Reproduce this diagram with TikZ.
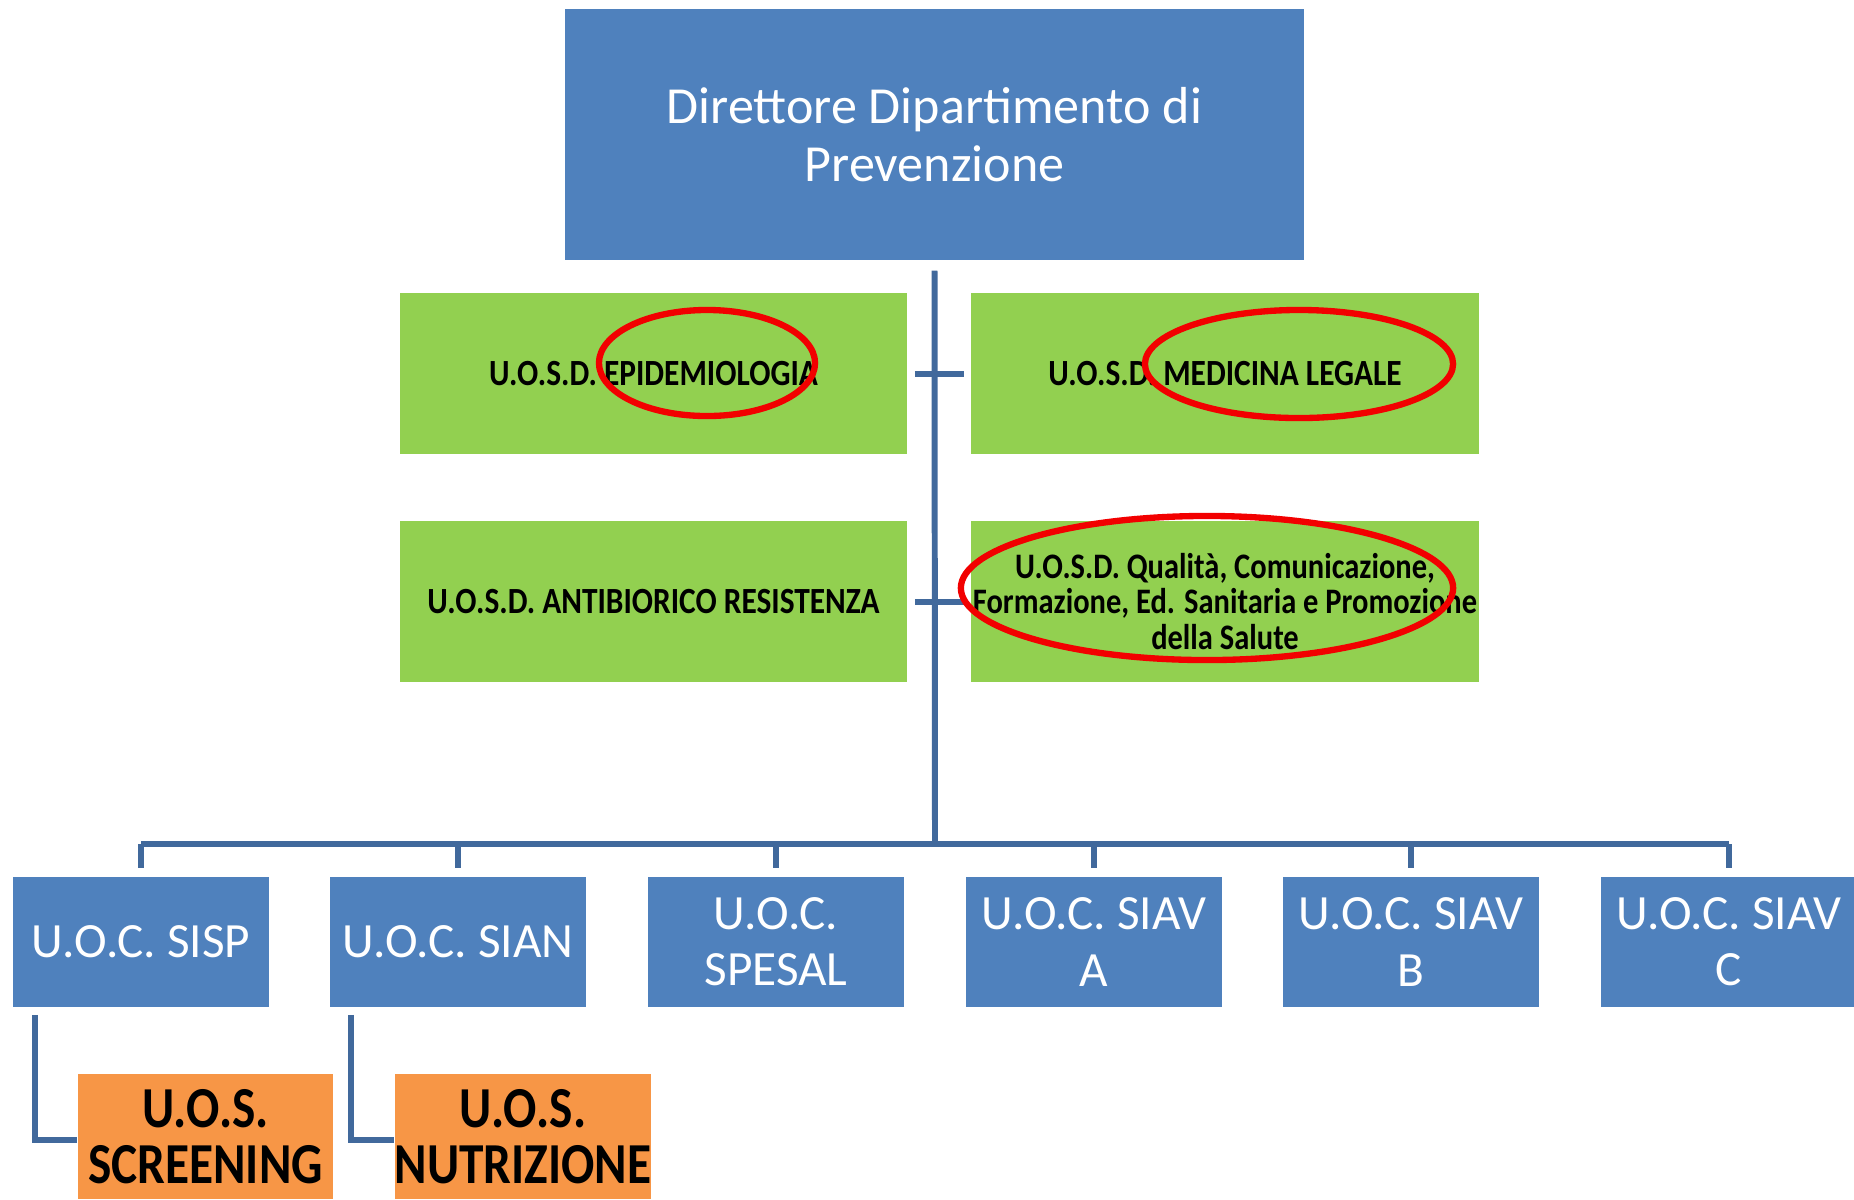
\documentclass[tikz,border=0pt]{standalone}
\usepackage{fontspec}
\setmainfont{Carlito}
\newfontfamily\condfont[FakeStretch=0.85]{Carlito}
\usepackage{tikz}
\definecolor{OrgBlue}{HTML}{4F81BD}
\definecolor{OrgGreen}{HTML}{92D050}
\definecolor{OrgOrange}{HTML}{F79646}
\definecolor{OrgLine}{HTML}{41699C}
\definecolor{OrgMark}{HTML}{F20000}

\begin{document}
\begin{tikzpicture}[x=0.01cm,y=-0.01cm,
    dirbox/.style={fill=OrgBlue,text=white,align=center,inner sep=0pt,
      minimum width=7.39cm,minimum height=2.51cm,font=\fontsize{14.8}{16.5}\selectfont},
    uosdbox/.style={fill=OrgGreen,text=black,align=center,inner sep=0pt,
      minimum width=5.07cm,minimum height=1.61cm,font=\condfont\bfseries\fontsize{10.5}{10.2}\selectfont},
    uocbox/.style={fill=OrgBlue,text=white,align=center,inner sep=0pt,
      minimum width=2.56cm,minimum height=1.30cm,font=\fontsize{14}{16}\selectfont},
    uosbox/.style={fill=OrgOrange,text=black,align=center,inner sep=0pt,
      minimum width=2.55cm,minimum height=1.25cm,font=\condfont\bfseries\fontsize{16.5}{16}\selectfont},
    orgline/.style={OrgLine,line width=1.7pt},
    redmark/.style={OrgMark,line width=1.8pt}]
      \useasboundingbox (0,0) rectangle (1854,1199);

      % direttore
      \node[dirbox] (dir) at (934.5,134.5) {Direttore Dipartimento di\\Prevenzione};

      % unita' semplici dipartimentali
      \node[uosdbox] (epi) at (653.5,373.5) {U.O.S.D. EPIDEMIOLOGIA};
      \node[uosdbox] (medleg) at (1225,373.5) {U.O.S.D. MEDICINA LEGALE};
      \node[uosdbox] (antib) at (653.5,601.5) {U.O.S.D. ANTIBIORICO RESISTENZA};
      \node[uosdbox,font=\condfont\bfseries\fontsize{10.2}{10.2}\selectfont] (qual) at (1225,601.5)
        {U.O.S.D. Qualità, Comunicazione,\\Formazione, Ed. Sanitaria e Promozione\\della Salute};

      % unita' operative complesse
      \node[uocbox] (sisp) at (141,942) {U.O.C. SISP};
      \node[uocbox] (sian) at (458,942) {U.O.C. SIAN};
      \node[uocbox] (spesal) at (776,942) {U.O.C.\\SPESAL};
      \node[uocbox] (siava) at (1094,942) {U.O.C. SIAV\\A};
      \node[uocbox] (siavb) at (1411,942) {U.O.C. SIAV\\B};
      \node[uocbox] (siavc) at (1729,942) {U.O.C. SIAV\\C};

      % unita' semplici
      \node[uosbox] (screen) at (205.5,1136.5) {U.O.S.\\SCREENING};
      \node[uosbox,minimum width=2.56cm] (nutri) at (523,1136.5) {U.O.S.\\NUTRIZIONE};

      % connettori
      \coordinate (bus) at (935,844);
      \draw[orgline] ([yshift=-2.8pt]dir.south) -- (bus);
      \draw[orgline] ([xshift=2pt]epi.east) -- ([xshift=-2pt]medleg.west);
      \draw[orgline] ([xshift=2pt]antib.east) -- ([xshift=-2pt]qual.west);
      \draw[orgline] (bus -| sisp.north) -- (bus -| siavc.north);
      \draw[orgline] (bus -| sisp.north) -- ([yshift=2.3pt]sisp.north);
      \draw[orgline] (bus -| sian.north) -- ([yshift=2.3pt]sian.north);
      \draw[orgline] (bus -| spesal.north) -- ([yshift=2.3pt]spesal.north);
      \draw[orgline] (bus -| siava.north) -- ([yshift=2.3pt]siava.north);
      \draw[orgline] (bus -| siavb.north) -- ([yshift=2.3pt]siavb.north);
      \draw[orgline] (bus -| siavc.north) -- ([yshift=2.3pt]siavc.north);
      \draw[orgline] ([xshift=6.5pt,yshift=-2pt]sisp.south west) |- ([yshift=-1pt]screen.west);
      \draw[orgline] ([xshift=6.3pt,yshift=-2pt]sian.south west) |- ([yshift=-1pt]nutri.west);

      % evidenziazioni
      \draw[redmark] (707,363) ellipse [x radius=1.08cm, y radius=0.53cm];
      \draw[redmark] (1299,364) ellipse [x radius=1.54cm, y radius=0.54cm];
      \draw[redmark] (1207,588) ellipse [x radius=2.46cm, y radius=0.72cm];
    \end{tikzpicture}
\end{document}
